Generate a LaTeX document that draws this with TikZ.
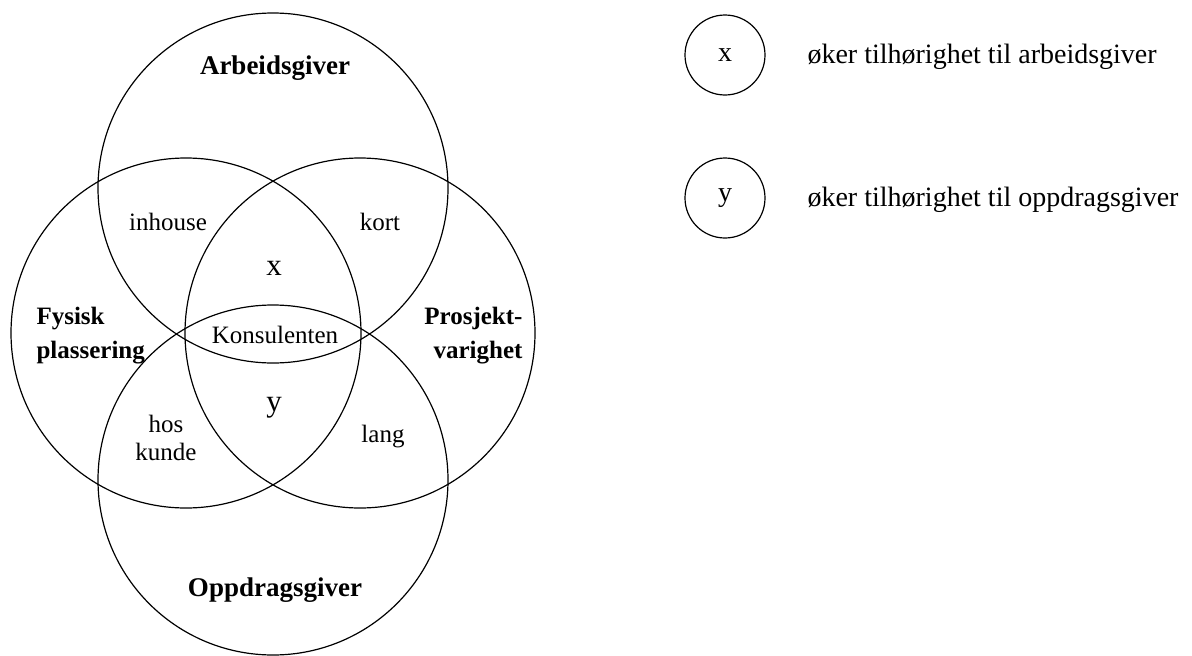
\documentclass[tikz,border=0pt]{standalone}
\usepackage{fontspec}
\setmainfont{Liberation Serif}
\usetikzlibrary{positioning}
\tikzset{venn/.style={circle,draw,line width=1.2pt,minimum size=350pt,inner sep=0pt},
    legcirc/.style={circle,draw,line width=1.2pt,minimum size=80pt,inner sep=0pt,font=\fontsize{28}{30}\selectfont},
    lbl/.style={align=center,font=\fontsize{25}{28}\selectfont},
    setlbl/.style={align=center,font=\fontsize{27}{34}\selectfont\bfseries}}

\begin{document}
\begin{tikzpicture}[x=1pt,y=-1pt]
    \useasboundingbox (0,0) rectangle (1192,656);

    \node[venn] (arb) at (273,188) {};
    \node[venn] (fys) at (186,333) {};
    \node[venn] (pro) at (360,333) {};
    \node[venn] (opp) at (273,480) {};

    \node[setlbl] (arbtxt) at (275,68) {Arbeidsgiver};
    \node[setlbl,align=left,anchor=west,font=\fontsize{25}{34}\selectfont\bfseries] (fystxt) at (33,336) {Fysisk\\plassering};
    \node[setlbl,align=right,anchor=east,font=\fontsize{25}{34}\selectfont\bfseries] (protxt) at (526,336) {Prosjekt-\\varighet};
    \node[setlbl] (opptxt) at (275,590) {Oppdragsgiver};

    \node[lbl] (inh) at (168,222) {inhouse};
    \node[lbl] (kort) at (380,222) {kort};
    \node[lbl] (hos) at (166,438) {hos\\kunde};
    \node[lbl] (lang) at (383,437) {lang};
    \node[lbl] (kons) at (275,335) {Konsulenten};
    \node[lbl,font=\fontsize{31}{34}\selectfont] (xx) at (274,268) {x};
    \node[lbl,font=\fontsize{31}{34}\selectfont] (yy) at (274,408) {y};

    % forklaring
    \node[legcirc] (kx) at (725,55) {x};
    \node[legcirc] (ky) at (725,198) {y};
    \node[anchor=west,font=\fontsize{28}{30}\selectfont] (kxtxt) at (804,57) {øker tilhørighet til arbeidsgiver};
    \node[anchor=west,font=\fontsize{28}{30}\selectfont] (kytxt) at (804,200) {øker tilhørighet til oppdragsgiver};
\end{tikzpicture}
\end{document}
